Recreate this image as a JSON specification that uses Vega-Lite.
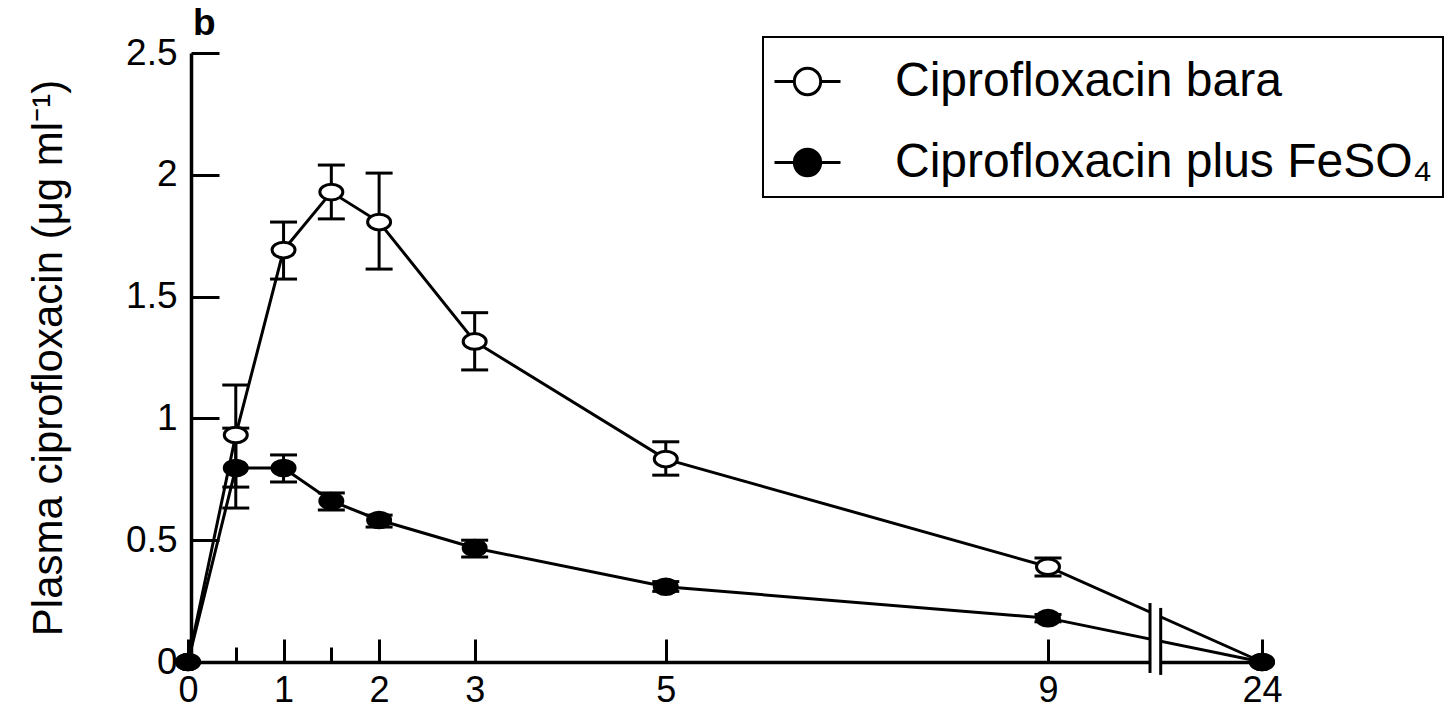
{
  "$schema": "https://vega.github.io/schema/vega-lite/v6.json",
  "width": 1074,
  "height": 609,
  "autosize": {"type": "none"},
  "padding": {"left": 188, "top": 53, "right": 191, "bottom": 47},
  "background": "white",
  "title": {"text": "b", "anchor": "start", "frame": "group", "font": "Liberation Sans", "fontSize": 37, "fontWeight": "bold", "color": "black", "offset": -9, "dx": 5},
  "config": {
    "view": {"stroke": null},
    "axis": {"grid": false, "domainColor": "black", "tickColor": "black", "labelColor": "black", "titleColor": "black", "labelFont": "Liberation Sans", "titleFont": "Liberation Sans", "zindex": 0},
    "legend": {"strokeWidth": 2}
  },
  "datasets": {
    "pk": [
      {"series": "Ciprofloxacin bara", "t": 0, "mean": 0},
      {"series": "Ciprofloxacin bara", "t": 0.5, "mean": 0.932, "lo": 0.718, "hi": 1.137},
      {"series": "Ciprofloxacin bara", "t": 1, "mean": 1.691, "lo": 1.572, "hi": 1.806},
      {"series": "Ciprofloxacin bara", "t": 1.5, "mean": 1.929, "lo": 1.819, "hi": 2.04},
      {"series": "Ciprofloxacin bara", "t": 2, "mean": 1.806, "lo": 1.613, "hi": 2.007},
      {"series": "Ciprofloxacin bara", "t": 3, "mean": 1.316, "lo": 1.199, "hi": 1.434},
      {"series": "Ciprofloxacin bara", "t": 5, "mean": 0.833, "lo": 0.767, "hi": 0.904},
      {"series": "Ciprofloxacin bara", "t": 9, "mean": 0.391, "lo": 0.353, "hi": 0.427},
      {"series": "Ciprofloxacin bara", "t": 24, "mean": 0},
      {"series": "Ciprofloxacin plus FeSO₄", "t": 0, "mean": 0},
      {"series": "Ciprofloxacin plus FeSO₄", "t": 0.5, "mean": 0.796, "lo": 0.632, "hi": 0.96},
      {"series": "Ciprofloxacin plus FeSO₄", "t": 1, "mean": 0.796, "lo": 0.739, "hi": 0.85},
      {"series": "Ciprofloxacin plus FeSO₄", "t": 1.5, "mean": 0.661, "lo": 0.624, "hi": 0.694},
      {"series": "Ciprofloxacin plus FeSO₄", "t": 2, "mean": 0.583, "lo": 0.554, "hi": 0.603},
      {"series": "Ciprofloxacin plus FeSO₄", "t": 3, "mean": 0.468, "lo": 0.431, "hi": 0.5},
      {"series": "Ciprofloxacin plus FeSO₄", "t": 5, "mean": 0.309, "lo": 0.29, "hi": 0.33},
      {"series": "Ciprofloxacin plus FeSO₄", "t": 9, "mean": 0.18, "lo": 0.165, "hi": 0.195},
      {"series": "Ciprofloxacin plus FeSO₄", "t": 24, "mean": 0}
    ],
    "gap": [{"t": 16.15, "t2": 16.9, "lo": -0.06, "hi": 0.26}],
    "brk": [
      {"t": 16.15, "lo": -0.045, "hi": 0.242},
      {"t": 16.9, "lo": -0.053, "hi": 0.222}
    ]
  },
  "layer": [
    {
      "data": {"name": "pk"},
      "mark": {"type": "line", "stroke": "black", "strokeWidth": 3},
      "encoding": {
        "x": {
          "field": "t", "type": "quantitative",
          "scale": {"type": "linear", "domain": [0, 9, 24], "range": [0, 860, 1074], "nice": false, "zero": false},
          "axis": {
            "title": null,
            "values": [0, 0.5, 1, 1.5, 2, 3, 5, 9, 24],
            "labelExpr": "datum.value == 0.5 || datum.value == 1.5 ? '' : datum.value + ''",
            "tickSize": {"condition": {"test": "datum.value == 0.5 || datum.value == 1.5", "value": -15}, "value": -23},
            "tickWidth": 3,
            "domainWidth": 3.5,
            "labelFontSize": 36,
            "labelPadding": 34,
            "labelFlush": false,
            "labelOverlap": false
          }
        },
        "y": {
          "field": "mean", "type": "quantitative",
          "scale": {"domain": [0, 2.5], "nice": false, "zero": false},
          "axis": {
            "title": "Plasma ciprofloxacin (μg ml⁻¹)",
            "titleFontSize": 42,
            "titleFontWeight": "normal",
            "titlePadding": 55,
            "values": [0, 0.5, 1, 1.5, 2, 2.5],
            "labelExpr": "datum.value + ''",
            "tickSize": -28,
            "tickWidth": 3,
            "domainWidth": 3.5,
            "offset": -3,
            "labelFontSize": 37,
            "labelPadding": 42,
            "labelFlush": false,
            "labelOverlap": false
          }
        },
        "detail": {"field": "series"}
      }
    },
    {
      "data": {"name": "gap"},
      "mark": {"type": "rect", "fill": "white", "stroke": null},
      "encoding": {
        "x": {"field": "t", "type": "quantitative"},
        "x2": {"field": "t2"},
        "y": {"field": "lo", "type": "quantitative"},
        "y2": {"field": "hi"}
      }
    },
    {
      "data": {"name": "brk"},
      "mark": {"type": "rule", "stroke": "black", "strokeWidth": 3},
      "encoding": {
        "x": {"field": "t", "type": "quantitative"},
        "y": {"field": "lo", "type": "quantitative"},
        "y2": {"field": "hi"}
      }
    },
    {
      "data": {"name": "pk"},
      "transform": [{"filter": "isValid(datum.lo)"}],
      "mark": {"type": "rule", "stroke": "black", "strokeWidth": 3},
      "encoding": {
        "x": {"field": "t", "type": "quantitative"},
        "y": {"field": "lo", "type": "quantitative"},
        "y2": {"field": "hi"}
      }
    },
    {
      "data": {"name": "pk"},
      "transform": [{"filter": "isValid(datum.lo)"}],
      "mark": {"type": "tick", "orient": "horizontal", "color": "black", "size": 27, "thickness": 3, "opacity": 1},
      "encoding": {
        "x": {"field": "t", "type": "quantitative"},
        "y": {"field": "lo", "type": "quantitative"}
      }
    },
    {
      "data": {"name": "pk"},
      "transform": [{"filter": "isValid(datum.hi)"}],
      "mark": {"type": "tick", "orient": "horizontal", "color": "black", "size": 27, "thickness": 3, "opacity": 1},
      "encoding": {
        "x": {"field": "t", "type": "quantitative"},
        "y": {"field": "hi", "type": "quantitative"}
      }
    },
    {
      "data": {"name": "pk"},
      "mark": {"type": "point", "shape": "M-1,0A1,0.68,0,1,1,1,0A1,0.68,0,1,1,-1,0Z", "filled": true, "stroke": "black", "strokeWidth": 3, "size": 529, "opacity": 1},
      "encoding": {
        "x": {"field": "t", "type": "quantitative"},
        "y": {"field": "mean", "type": "quantitative"},
        "fill": {
          "field": "series", "type": "nominal",
          "scale": {"domain": ["Ciprofloxacin bara", "Ciprofloxacin plus FeSO₄"], "range": ["white", "black"]},
          "legend": {
            "title": null,
            "orient": "none",
            "legendX": 575,
            "legendY": -16,
            "symbolType": "M-1,0L-0.4,0M0.4,0L1,0M0.4,0A0.4,0.4,0,1,1,-0.4,0A0.4,0.4,0,1,1,0.4,0Z",
            "symbolSize": 4356,
            "symbolStrokeColor": "black",
            "symbolStrokeWidth": 3,
            "labelFont": "Liberation Sans",
            "labelFontSize": 48,
            "labelColor": "black",
            "labelLimit": 1000,
            "labelOffset": 53,
            "rowPadding": 22,
            "padding": 10,
            "strokeColor": "black",
            "fillColor": "white"
          }
        }
      }
    }
  ]
}
